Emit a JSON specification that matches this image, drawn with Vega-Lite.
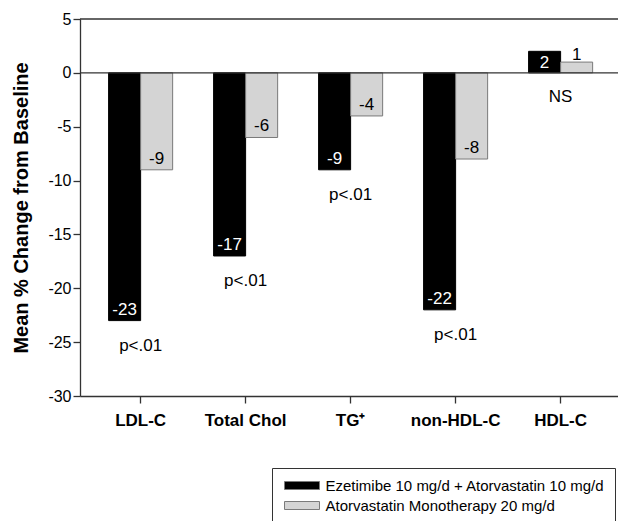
{
  "$schema": "https://vega.github.io/schema/vega-lite/v6.json",
  "width": 538,
  "height": 377,
  "autosize": {"type": "none"},
  "padding": {"left": 80, "top": 19, "right": 0, "bottom": 125},
  "background": "white",
  "config": {
    "font": "Liberation Sans",
    "view": {"stroke": null},
    "axis": {"domainColor": "#333333", "tickColor": "#333333", "domainWidth": 1.3, "tickWidth": 1.3, "labelColor": "black", "titleColor": "black", "grid": false}
  },
  "data": {
    "values": [
      {"category": "LDL-C", "series": "Ezetimibe 10 mg/d + Atorvastatin 10 mg/d", "value": -23, "p": "p<.01"},
      {"category": "LDL-C", "series": "Atorvastatin Monotherapy 20 mg/d", "value": -9, "p": "p<.01"},
      {"category": "Total Chol", "series": "Ezetimibe 10 mg/d + Atorvastatin 10 mg/d", "value": -17, "p": "p<.01"},
      {"category": "Total Chol", "series": "Atorvastatin Monotherapy 20 mg/d", "value": -6, "p": "p<.01"},
      {"category": "TG⁺", "series": "Ezetimibe 10 mg/d + Atorvastatin 10 mg/d", "value": -9, "p": "p<.01"},
      {"category": "TG⁺", "series": "Atorvastatin Monotherapy 20 mg/d", "value": -4, "p": "p<.01"},
      {"category": "non-HDL-C", "series": "Ezetimibe 10 mg/d + Atorvastatin 10 mg/d", "value": -22, "p": "p<.01"},
      {"category": "non-HDL-C", "series": "Atorvastatin Monotherapy 20 mg/d", "value": -8, "p": "p<.01"},
      {"category": "HDL-C", "series": "Ezetimibe 10 mg/d + Atorvastatin 10 mg/d", "value": 2, "p": "NS"},
      {"category": "HDL-C", "series": "Atorvastatin Monotherapy 20 mg/d", "value": 1, "p": "NS"}
    ]
  },
  "layer": [
    {
      "mark": {"type": "bar", "strokeWidth": 1},
      "encoding": {
        "x": {
          "field": "category", "type": "nominal",
          "sort": ["LDL-C", "Total Chol", "TG⁺", "non-HDL-C", "HDL-C"],
          "scale": {"paddingInner": 0.39, "paddingOuter": 0.257, "align": 0.53},
          "axis": {"title": null, "labelAngle": 0, "labelFontSize": 17, "labelFontWeight": "bold", "tickSize": 7, "labelPadding": 9}
        },
        "xOffset": {
          "field": "series", "type": "nominal",
          "sort": ["Ezetimibe 10 mg/d + Atorvastatin 10 mg/d", "Atorvastatin Monotherapy 20 mg/d"],
          "scale": {"paddingInner": 0, "paddingOuter": 0}
        },
        "y": {
          "field": "value", "type": "quantitative",
          "scale": {"domain": [-30, 5], "nice": false},
          "axis": {
            "title": "Mean % Change from Baseline",
            "values": [-30, -25, -20, -15, -10, -5, 0, 5],
            "labelExpr": "'' + datum.value",
            "tickSize": 7, "labelPadding": 2, "labelFontSize": 16,
            "titleFontSize": 20, "titleFontWeight": "bold",
            "titleX": -53, "titleY": 188.5, "titleBaseline": "alphabetic"
          }
        },
        "color": {
          "field": "series", "type": "nominal",
          "scale": {"domain": ["Ezetimibe 10 mg/d + Atorvastatin 10 mg/d", "Atorvastatin Monotherapy 20 mg/d"], "range": ["#000000", "#d4d4d4"]},
          "legend": {
            "title": null, "orient": "none", "legendX": 192, "legendY": 449,
            "direction": "vertical", "padding": 10, "strokeColor": "#333333",
            "labelFontSize": 15, "labelColor": "black", "labelLimit": 400,
            "symbolType": "M-3.5,-0.8H3.5V0.8H-3.5Z", "symbolSize": 100,
            "symbolStrokeColor": "#7a7a7a", "symbolStrokeWidth": 1, "symbolOpacity": 1,
            "symbolOffset": 12.5,
            "rowPadding": 4, "labelOffset": 16
          }
        },
        "stroke": {
          "condition": {"test": "datum.series === 'Atorvastatin Monotherapy 20 mg/d'", "value": "#7a7a7a"},
          "value": "#000000"
        }
      }
    },
    {
      "data": {"values": [{}]},
      "mark": {"type": "rule", "color": "#333333", "strokeWidth": 1.3},
      "encoding": {"y": {"datum": 0, "type": "quantitative"}}
    },
    {
      "data": {"values": [{}]},
      "mark": {"type": "rule", "color": "#333333", "strokeWidth": 1.3},
      "encoding": {"y": {"datum": 5, "type": "quantitative"}}
    },
    {
      "transform": [{"filter": "datum.value < 0"}],
      "mark": {"type": "text", "fontSize": 17, "baseline": "alphabetic", "dy": -6},
      "encoding": {
        "x": {"field": "category", "type": "nominal", "sort": ["LDL-C", "Total Chol", "TG⁺", "non-HDL-C", "HDL-C"]},
        "xOffset": {"field": "series", "type": "nominal", "sort": ["Ezetimibe 10 mg/d + Atorvastatin 10 mg/d", "Atorvastatin Monotherapy 20 mg/d"]},
        "y": {"field": "value", "type": "quantitative"},
        "text": {"field": "value", "type": "nominal"},
        "color": {"condition": {"test": "datum.series === 'Ezetimibe 10 mg/d + Atorvastatin 10 mg/d'", "value": "white"}, "value": "black"}
      }
    },
    {
      "transform": [{"filter": "datum.value > 0 && datum.series === 'Ezetimibe 10 mg/d + Atorvastatin 10 mg/d'"}],
      "mark": {"type": "text", "fontSize": 17, "baseline": "top", "dy": 4, "color": "white"},
      "encoding": {
        "x": {"field": "category", "type": "nominal", "sort": ["LDL-C", "Total Chol", "TG⁺", "non-HDL-C", "HDL-C"]},
        "xOffset": {"field": "series", "type": "nominal", "sort": ["Ezetimibe 10 mg/d + Atorvastatin 10 mg/d", "Atorvastatin Monotherapy 20 mg/d"]},
        "y": {"field": "value", "type": "quantitative"},
        "text": {"field": "value", "type": "nominal"}
      }
    },
    {
      "transform": [{"filter": "datum.value > 0 && datum.series === 'Atorvastatin Monotherapy 20 mg/d'"}],
      "mark": {"type": "text", "fontSize": 17, "baseline": "alphabetic", "dy": -2, "color": "black"},
      "encoding": {
        "x": {"field": "category", "type": "nominal", "sort": ["LDL-C", "Total Chol", "TG⁺", "non-HDL-C", "HDL-C"]},
        "xOffset": {"field": "series", "type": "nominal", "sort": ["Ezetimibe 10 mg/d + Atorvastatin 10 mg/d", "Atorvastatin Monotherapy 20 mg/d"]},
        "y": {"field": "value", "type": "quantitative"},
        "text": {"field": "value", "type": "nominal"}
      }
    },
    {
      "transform": [
        {"filter": "datum.value < 0"},
        {"aggregate": [{"op": "min", "field": "value", "as": "low"}], "groupby": ["category", "p"]}
      ],
      "mark": {"type": "text", "fontSize": 17, "baseline": "middle", "dy": 25, "color": "black"},
      "encoding": {
        "x": {"field": "category", "type": "nominal", "sort": ["LDL-C", "Total Chol", "TG⁺", "non-HDL-C", "HDL-C"]},
        "y": {"field": "low", "type": "quantitative"},
        "text": {"field": "p", "type": "nominal"}
      }
    },
    {
      "transform": [
        {"filter": "datum.value > 0"},
        {"aggregate": [{"op": "count", "as": "n"}], "groupby": ["category", "p"]}
      ],
      "mark": {"type": "text", "fontSize": 17, "baseline": "middle", "dy": 24, "color": "black"},
      "encoding": {
        "x": {"field": "category", "type": "nominal", "sort": ["LDL-C", "Total Chol", "TG⁺", "non-HDL-C", "HDL-C"]},
        "y": {"datum": 0, "type": "quantitative"},
        "text": {"field": "p", "type": "nominal"}
      }
    }
  ]
}
